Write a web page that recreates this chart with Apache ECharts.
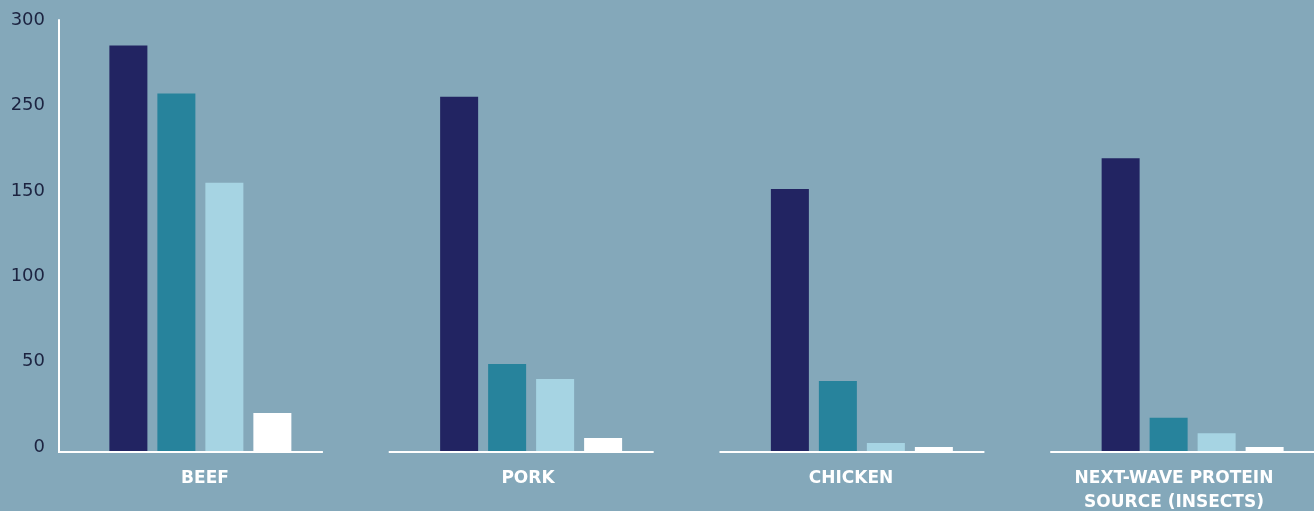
<!DOCTYPE html>
<html>
<head>
<meta charset="utf-8">
<script src="https://cdn.jsdelivr.net/npm/echarts@6/dist/echarts.min.js"></script>
<style>
  html, body { margin: 0; padding: 0; background: #84A8BA; }
  #chart { width: 1314px; height: 511px; }
</style>
</head>
<body>
<div id="chart"></div>
<script>
// Categories along the x axis
const categories = ['BEEF', 'PORK', 'CHICKEN', 'NEXT-WAVE PROTEIN\nSOURCE (INSECTS)'];

// Four series per category, left to right
const seriesNavy  = [238, 208, 154, 172];
const seriesTeal  = [210, 51.5, 41.6, 20];
const seriesLight = [157.7, 42.7, 5.3, 11];
const seriesWhite = [22.8, 8.2, 3, 3];

// Tick labels printed on the y axis, bottom to top
const tickLabels = ['0', '50', '100', '150', '250', '300'];

const colors = ['#222462', '#27839C', '#A6D4E3', '#FFFFFF'];
const seriesData = [seriesNavy, seriesTeal, seriesLight, seriesWhite];

const chart = echarts.init(document.getElementById('chart'), null, { renderer: 'canvas' });

const barSeries = seriesData.map((d, i) => ({
  type: 'bar',
  xAxisIndex: 0,
  yAxisIndex: 0,
  data: d,
  barWidth: 38,
  barGap: '26.3%',
  itemStyle: { color: colors[i] },
  silent: true,
  z: 2
}));

// Baseline drawn as a separate white segment under each category group
const baselineSeries = {
  type: 'custom',
  xAxisIndex: 0,
  yAxisIndex: 0,
  data: categories.map((c, i) => [i, 0]),
  silent: true,
  z: 5,
  renderItem: function (params, api) {
    const p = api.coord([api.value(0), 0]);
    const band = api.size([1, 0])[0];
    return {
      type: 'line',
      shape: { x1: p[0] - band * 0.4305, y1: p[1], x2: p[0] + band * 0.3705, y2: p[1] },
      style: { stroke: '#FFFFFF', lineWidth: 2 }
    };
  }
};

chart.setOption({
  backgroundColor: '#84A8BA',
  animation: false,
  grid: [
    { left: 35, top: 20, width: 1323, height: 432, containLabel: false, outerBoundsMode: 'none' },
    { left: 43.5, top: 20, width: 1292, height: 432, containLabel: false, outerBoundsMode: 'none' }
  ],
  xAxis: [
    {
      type: 'category',
      gridIndex: 0,
      data: categories,
      axisLine: { show: false },
      axisTick: { show: false },
      axisLabel: { show: false },
      splitLine: { show: false }
    },
    {
      type: 'category',
      gridIndex: 1,
      data: categories,
      axisLine: { show: false },
      axisTick: { show: false },
      splitLine: { show: false },
      axisLabel: {
        interval: 0,
        margin: 15,
        color: '#FFFFFF',
        fontFamily: 'DejaVu Sans',
        fontWeight: 'bold',
        fontSize: 17,
        lineHeight: 24,
        align: 'center'
      }
    }
  ],
  yAxis: [
    {
      type: 'value',
      gridIndex: 0,
      min: 0,
      max: 253,
      interval: 50,
      offset: -24,
      axisLine: { show: true, lineStyle: { color: '#FFFFFF', width: 2 } },
      axisTick: { show: false },
      splitLine: { show: false },
      axisLabel: {
        margin: 14,
        color: '#1C2340',
        fontFamily: 'DejaVu Sans',
        fontSize: 18,
        lineHeight: 10,
        verticalAlign: 'bottom',
        showMaxLabel: false,
        formatter: function (v) {
          const k = v / 50;
          return Number.isInteger(k) && tickLabels[k] !== undefined ? tickLabels[k] : '';
        }
      }
    },
    {
      type: 'value',
      gridIndex: 1,
      min: 0,
      max: 253,
      show: false
    }
  ],
  series: barSeries.concat([baselineSeries])
});
</script>
</body>
</html>
